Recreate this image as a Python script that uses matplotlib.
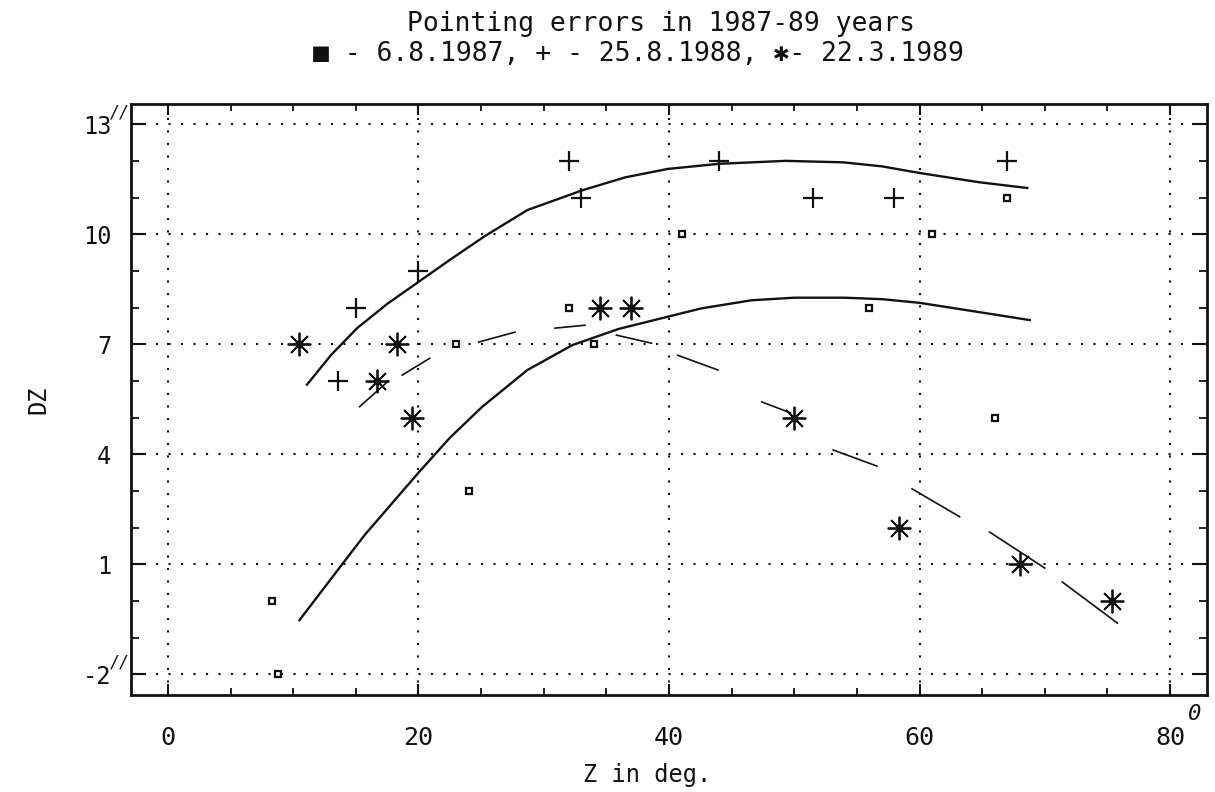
import numpy as np
import matplotlib.pyplot as plt
from matplotlib.ticker import MultipleLocator

plt.rcParams['font.family'] = ['DejaVu Sans Mono', 'DejaVu Sans']
plt.rcParams['axes.unicode_minus'] = False

# 6.8.1987 (squares)
z87 = [8.3, 8.8, 23, 24, 32, 34, 41, 56, 61, 66, 67]
dz87 = [0, -2, 7, 3, 8, 7, 10, 8, 10, 5, 11]

# 25.8.1988 (plus)
z88 = [13.6, 15, 20, 32, 33, 44, 51.5, 58, 67]
dz88 = [6, 8, 9, 12, 11, 12, 11, 11, 12]

# 22.3.1989 (asterisk)
z89 = [10.5, 16.7, 18.3, 19.5, 34.5, 37, 50, 58.4, 68, 75.4]
dz89 = [7, 6, 7, 5, 8, 8, 5, 2, 1, 0]

# fitted curve 1988 (upper solid)
fit88_z = [11.1, 13, 15.1, 17.5, 20, 22.5, 25.3, 28.7, 33.1, 36.5, 39.9, 44, 49.3, 53.9, 57, 60, 64.7, 68.6]
fit88_dz = [5.9, 6.7, 7.44, 8.1, 8.7, 9.3, 9.95, 10.66, 11.2, 11.55, 11.78, 11.92, 12.0, 11.96, 11.85, 11.67, 11.42, 11.26]

# fitted curve 1987 (lower solid)
fit87_z = [10.5, 13.9, 15.7, 20, 22.5, 25.1, 28.7, 32.3, 36, 40, 42.6, 46.6, 50, 54, 57, 60, 64.7, 68.8]
fit87_dz = [-0.52, 1.0, 1.8, 3.5, 4.45, 5.3, 6.3, 6.98, 7.42, 7.76, 7.98, 8.2, 8.27, 8.27, 8.23, 8.13, 7.88, 7.66]

# fitted curve 1989 (dashed), start/end of each dash
dash_z0 = [15.3, 18.7, 24.8, 30.9, 35.8, 40.7, 47.4, 53.1, 59.4, 65.6, 71.4]
dash_dz0 = [5.3, 6.16, 7.06, 7.44, 7.25, 6.7, 5.43, 4.12, 3.06, 1.88, 0.52]
dash_z1 = [17.6, 20.9, 27.7, 33.3, 38.6, 43.9, 49.7, 56.6, 63.2, 70.0, 75.8]
dash_dz1 = [6.0, 6.62, 7.33, 7.52, 7.03, 6.3, 5.13, 3.68, 2.3, 0.9, -0.6]

xticks = [0, 20, 40, 60, 80]
yticks = [-2, 1, 4, 7, 10, 13]

fig = plt.figure(figsize=(12.15, 7.92), dpi=100)
ax = fig.add_axes([131/1215, 1 - 695/792, 1076/1215, 591/792])

ink = '#111111'

ax.plot(fit88_z, fit88_dz, color=ink, lw=1.7)
ax.plot(fit87_z, fit87_dz, color=ink, lw=1.7)
ax.plot(np.vstack([dash_z0, dash_z1]), np.vstack([dash_dz0, dash_dz1]), color=ink, lw=1.2)

ax.plot(z87, dz87, 's', ms=5, mfc='white', mec=ink, mew=1.6, ls='none')
ax.plot(z88, dz88, '+', ms=15, mec=ink, mew=1.6, ls='none')
ax.plot(z89, dz89, marker=(8, 2, 0), ms=17, mec=ink, mew=1.3, ls='none')
ax.plot(z89, dz89, 's', ms=4, mfc=ink, mec=ink, ls='none')

ax.set_xlim(-2.95, 82.95)
ax.set_ylim(-2.56, 13.55)
ax.set_xticks(xticks)
ax.set_yticks(yticks)
ax.xaxis.set_minor_locator(MultipleLocator(5))
ax.yaxis.set_minor_locator(MultipleLocator(1))
ax.grid(True, which='major', color=ink, lw=1.5, linestyle=(0, (1, 5)))

ax.tick_params(axis='both', which='both', direction='in', top=True, right=True, colors=ink)
ax.tick_params(axis='y', which='major', length=11, width=1.5, labelsize=17, pad=14)
ax.tick_params(axis='y', which='minor', length=6, width=1.3)
ax.tick_params(axis='x', which='major', length=8, width=1.5, labelsize=18, pad=22)
ax.tick_params(axis='x', which='minor', length=5, width=1.3)
for s in ax.spines.values():
    s.set_linewidth(2.0)
    s.set_color(ink)

# arc-second / degree marks next to the tick labels
ax.annotate('//', xy=(0, 13), xycoords=('axes fraction', 'data'), xytext=(-15, 5),
            textcoords='offset points', fontsize=12, color=ink, style='italic')
ax.annotate('//', xy=(0, -2), xycoords=('axes fraction', 'data'), xytext=(-15, 5),
            textcoords='offset points', fontsize=12, color=ink, style='italic')
ax.annotate('0', xy=(80, 0), xycoords=('data', 'axes fraction'), xytext=(13, -18),
            textcoords='offset points', fontsize=16, color=ink, style='italic')

ax.set_ylabel('DZ', fontsize=17, color=ink)
ax.yaxis.set_label_coords(-0.075, 0.5)
ax.set_xlabel('Z in deg.', fontsize=17, color=ink)
ax.xaxis.set_label_coords(0.48, -0.115)

fig.text(661/1215, 1 - 24/792, 'Pointing errors in 1987-89 years', ha='center', va='center',
         fontsize=19, color=ink)
fig.text(638/1215, 1 - 54/792, '■ - 6.8.1987, + - 25.8.1988, ✱- 22.3.1989', ha='center', va='center',
         fontsize=19, color=ink)

fig.savefig('out.png', dpi=100)
